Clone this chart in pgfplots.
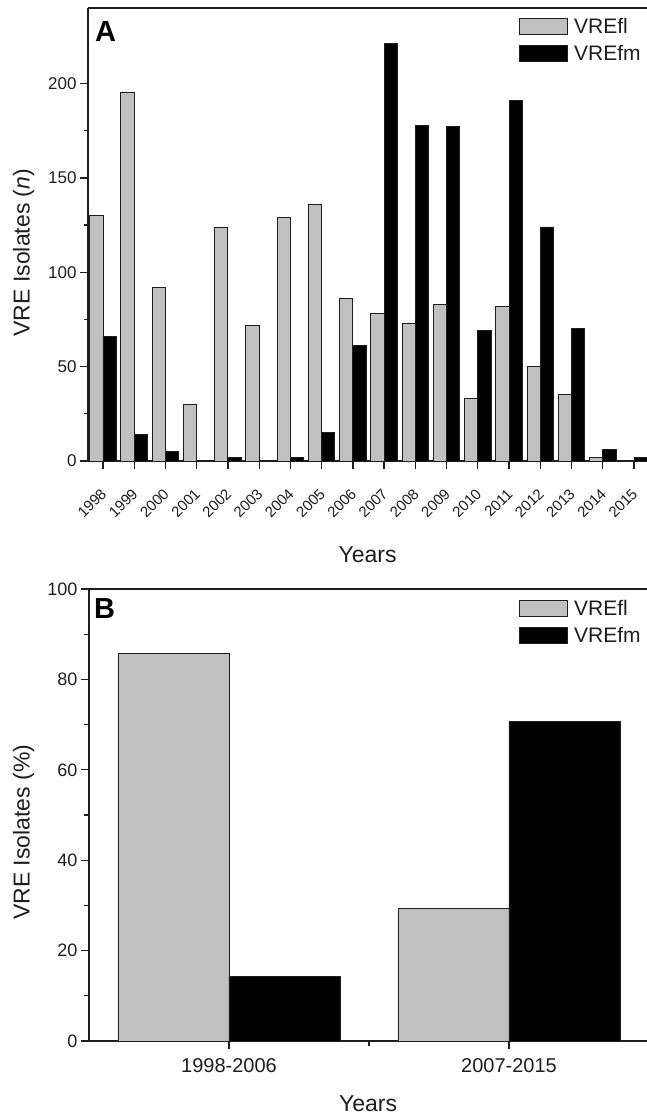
\documentclass[border=0pt]{standalone}
\usepackage{fontspec}
\setmainfont{Liberation Sans}
\usepackage{pgfplots}
\pgfplotsset{compat=1.18}

\definecolor{flgray}{RGB}{192,192,192}
\definecolor{edge}{RGB}{30,30,30}

\pgfplotsset{
  panel/.style={
    scale only axis,
    ybar=0pt,
    axis x line*=box, axis y line*=left,
    axis line style={-, line width=1.3bp, edge},
    tick align=outside, xtick pos=bottom, ytick pos=left,
    major tick length=8bp, minor tick length=4.5bp,
    tick style={line width=1.3bp, edge},
    /pgf/number format/1000 sep={},
    /pgf/number format/assume math mode=true,
    label style={font=\fontsize{23bp}{23bp}\selectfont, text=edge},
    legend style={at={(0,1)}, anchor=north west, draw=none, fill=none,
      inner sep=0pt, font=\fontsize{21bp}{21bp}\selectfont,
      row sep=6.2bp, column sep=4bp, nodes={inner sep=2bp, text=edge}},
    legend cell align=left,
  },
  flbar/.style={fill=flgray, draw=edge, line width=0.9bp,
    legend image code/.code={\draw[##1] (0bp,-8bp) rectangle (48bp,8bp);}},
  fmbar/.style={fill=black, draw=edge, line width=0.9bp,
    legend image code/.code={\draw[##1] (0bp,-8bp) rectangle (48bp,8bp);}},
}

\begin{document}
\begin{tikzpicture}
\path[use as bounding box] (0bp,0bp) rectangle (647bp,-1114bp);

% panel A: counts per year
\begin{axis}[
  panel,
  at={(88bp,-461bp)}, anchor=south west,
  width=559bp, height=453bp,
  xmin=1997.52, xmax=2015.416, ymin=0, ymax=240,
  bar width=13.3bp,
  xtick={1998,...,2015}, minor x tick num=1,
  ytick={0,50,...,200}, minor y tick num=1,
  yticklabel style={font=\fontsize{17bp}{17bp}\selectfont, text=edge},
  xticklabel style={font=\fontsize{15bp}{15bp}\selectfont, text=edge,
    xshift=-3bp, yshift=-17bp, rotate=45, anchor=north east, inner sep=1bp},
  xlabel={Years}, ylabel={VRE Isolates (\textit{n})},
  xlabel style={at={(axis description cs:0.5,-0.223)}, anchor=base},
  ylabel style={at={(axis description cs:-0.115,0.46)}, anchor=center},
  legend style={xshift=431bp, yshift=-7.8bp},
]
\addplot[flbar] coordinates {
  (1998,130) (1999,195) (2000,92) (2001,30) (2002,124) (2003,72)
  (2004,129) (2005,136) (2006,86) (2007,78) (2008,73) (2009,83)
  (2010,33) (2011,82) (2012,50) (2013,35) (2014,2) (2015,0)};
\addlegendentry{VREfl}
\addplot[fmbar] coordinates {
  (1998,66) (1999,14) (2000,5) (2001,0) (2002,2) (2003,0)
  (2004,2) (2005,15) (2006,61) (2007,221) (2008,178) (2009,177)
  (2010,69) (2011,191) (2012,124) (2013,70) (2014,6) (2015,2)};
\addlegendentry{VREfm}
\node[anchor=north west, inner sep=0pt, xshift=7bp, yshift=-13bp,
  font=\bfseries\fontsize{29bp}{29bp}\selectfont] at (rel axis cs:0,1) {A};
\end{axis}

% panel B: share per period
\begin{axis}[
  panel,
  at={(89bp,-1041bp)}, anchor=south west,
  width=558bp, height=452bp,
  xmin=0.5, xmax=2.493, ymin=0, ymax=100,
  bar width=111bp,
  xtick={1,2}, xticklabels={1998-2006, 2007-2015}, minor xtick={1.5},
  ytick={0,20,...,100}, minor y tick num=1,
  yticklabel style={font=\fontsize{18bp}{18bp}\selectfont, text=edge},
  xticklabel style={font=\fontsize{20bp}{20bp}\selectfont, text=edge, yshift=-6bp},
  xlabel={Years}, ylabel={VRE Isolates (\%)},
  xlabel style={at={(axis description cs:0.5,-0.155)}, anchor=base},
  ylabel style={at={(axis description cs:-0.117,0.462)}, anchor=center},
  legend style={xshift=430bp, yshift=-8.8bp},
]
\addplot[flbar] coordinates {(1,85.7) (2,29.4)};
\addlegendentry{VREfl}
\addplot[fmbar] coordinates {(1,14.3) (2,70.6)};
\addlegendentry{VREfm}
\node[anchor=north west, inner sep=0pt, xshift=5bp, yshift=-9bp,
  font=\bfseries\fontsize{29bp}{29bp}\selectfont] at (rel axis cs:0,1) {B};
\end{axis}
\end{tikzpicture}
\end{document}
